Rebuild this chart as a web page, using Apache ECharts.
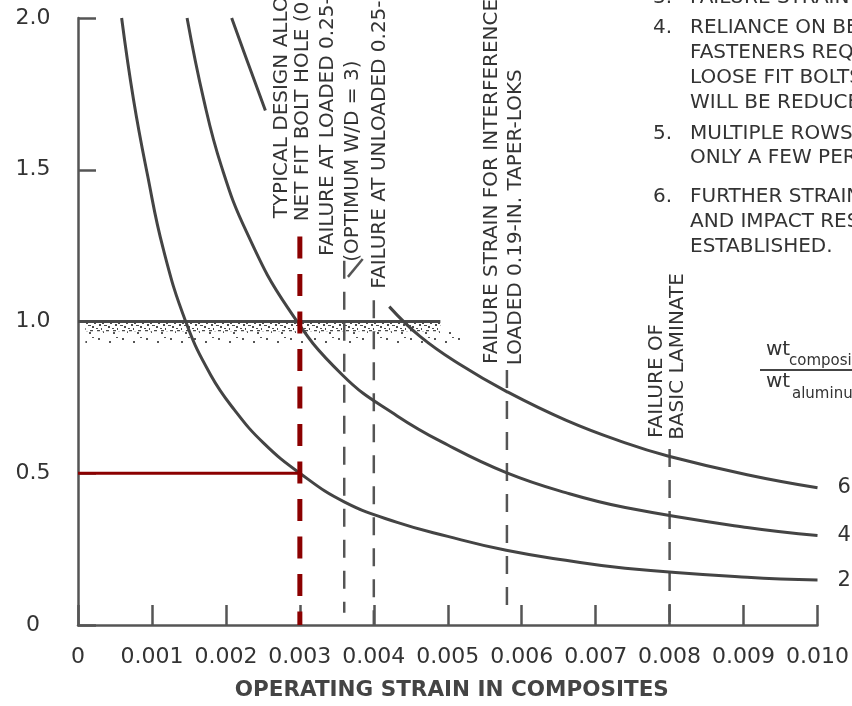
<!DOCTYPE html>
<html><head><meta charset="utf-8">
<script src="https://cdn.jsdelivr.net/npm/echarts@6/dist/echarts.min.js"></script>
<style>html,body{margin:0;padding:0;background:#fff}#c{width:852px;height:706px}</style>
</head><body><div id="c"></div>
<script>
// ---------- data ----------
const xTickLabels = ['0','0.001','0.002','0.003','0.004','0.005','0.006','0.007','0.008','0.009','0.010'];
const yTickLabels = ['0','0.5','1.0','1.5','2.0'];

// weight ratio curves (labels 2, 4, 6)
const curve2 = [[0.00059,2.0],[0.000751,1.731],[0.000938,1.485],[0.001153,1.239],[0.001461,0.997],[0.001796,0.823],[0.002118,0.708],[0.002507,0.600],[0.003,0.5],[0.003606,0.405],[0.004316,0.338],[0.005,0.292],[0.005791,0.246],[0.006595,0.213],[0.0074,0.187],[0.009048,0.157],[0.01,0.148]];
const curve4 = [[0.001475,2.0],[0.0017,1.731],[0.00194,1.511],[0.002279,1.295],[0.002842,1.043],[0.003579,0.823],[0.004316,0.689],[0.005,0.593],[0.005791,0.502],[0.006595,0.436],[0.0074,0.387],[0.009048,0.321],[0.01,0.295]];
const curve6Upper = [[0.002078,2.0],[0.002292,1.856],[0.002534,1.695]];
const curve6Lower = [[0.004209,1.049],[0.004625,0.951],[0.005161,0.859],[0.005791,0.770],[0.006595,0.675],[0.0074,0.600],[0.007976,0.557],[0.009048,0.495],[0.01,0.452]];

// vertical failure-strain lines: [strain, bottom, top]
const failureLines = [[0.0036,0.04,1.20],[0.004,0,1.07],[0.0058,0.033,0.84],[0.008,0,0.58]];
const leader = [[0.00365,1.147],[0.00385,1.206]];

// design point (red)
const designStrain = 0.003, designRatio = 0.5, designTop = 1.28;

// typical design band at ratio 1.0
const bandRatio = 1.0, bandLineEnd = 0.0049, bandStippleStart = 0.0001, bandStippleEnd = 0.0052, bandDense = 0.968, bandBottom = 0.92;

const curveNames = ['6','4','2'];
const annotations = [
  ['TYPICAL DESIGN ALLOWABLE', 0.00275, 1.34],
  ['NET FIT BOLT HOLE (0.25-IN.)', 0.00304, 1.33],
  ['FAILURE AT LOADED 0.25-IN.', 0.00338, 1.216],
  ['(OPTIMUM W/D = 3)', 0.00371, 1.197],
  ['FAILURE AT UNLOADED 0.25-IN.', 0.00408, 1.108],
  ['FAILURE STRAIN FOR INTERFERENCE', 0.00559, 0.86],
  ['LOADED 0.19-IN. TAPER-LOKS', 0.00592, 0.856],
  ['FAILURE OF', 0.00783, 0.616],
  ['BASIC LAMINATE', 0.00811, 0.61]
];
const noteLines = [
  ['3.','FAILURE STRAIN AT'],
  ['4.','RELIANCE ON BEARING'],
  ['','FASTENERS REQUIRED'],
  ['','LOOSE FIT BOLTS'],
  ['','WILL BE REDUCED'],
  ['5.','MULTIPLE ROWS'],
  ['','ONLY A FEW PER'],
  ['6.','FURTHER STRAIN'],
  ['','AND IMPACT RESIST'],
  ['','ESTABLISHED.']
];
const axisTitle = 'OPERATING STRAIN IN COMPOSITES';
const fracTop = ['wt','composite'], fracBottom = ['wt','aluminum'];

// ---------- drawing ----------
const FONT = '"DejaVu Sans", "Liberation Sans", sans-serif';
const INK = '#333';
const chart = echarts.init(document.getElementById('c'), null, {renderer:'canvas'});

function dots(w, h, pts, col) {
  const c = document.createElement('canvas'); c.width = w; c.height = h;
  const g = c.getContext('2d'); g.fillStyle = col;
  pts.forEach(p => g.fillRect(p[0], p[1], p[2], p[3]));
  return c;
}
const densePattern = dots(16, 10, [[1,0,3,2],[6,1,2,3],[10,0,3,2],[14,2,2,2],[3,4,2,2],[8,5,3,1],[12,6,2,2],[0,8,2,1],[5,8,1,2]], '#4a4a4a');
const sparsePattern = dots(24, 16, [[2,2,2,2],[13,5,2,2],[20,1,2,1],[7,11,1,2],[17,12,2,2]], '#555');

const curveStyle = {color:'#444', width:3};
const series = [];
[[curve6Upper,'6u'],[curve6Lower,curveNames[0]],[curve4,curveNames[1]],[curve2,curveNames[2]]].forEach(([d,n]) => {
  series.push({type:'line', name:n, data:d, smooth:0.45, symbol:'none', silent:true,
    lineStyle:curveStyle, z:3,
    endLabel: n === '6u' ? {show:false} : {show:true, formatter:'{a}', distance:20, fontSize:21, fontFamily:FONT, color:INK}});
});
failureLines.forEach(f => {
  series.push({type:'line', data:[[f[0],f[2]],[f[0],f[1]]], symbol:'none', silent:true, z:2,
    lineStyle:{color:'#555', width:2.5, type:[18,13]}});
});
series.push({type:'line', data:leader, symbol:'none', silent:true, lineStyle:{color:'#555', width:2.5}});
// band
series.push({type:'line', data:[[0,bandRatio],[bandLineEnd,bandRatio]], symbol:'none', silent:true, z:2,
  lineStyle:{color:'#4a4a4a', width:3},
  markArea:{silent:true, data:[
    [{coord:[bandStippleStart,bandRatio], itemStyle:{color:{image:densePattern, repeat:'repeat'}}},{coord:[bandLineEnd,bandDense]}],
    [{coord:[bandStippleStart,bandDense], itemStyle:{color:{image:sparsePattern, repeat:'repeat'}}},{coord:[bandStippleEnd,bandBottom]}]
  ]}
});
// red design lines
series.push({type:'line', data:[[designStrain,designTop],[designStrain,0]], symbol:'none', silent:true, z:5,
  lineStyle:{color:'#8b0000', width:5, type:[22,15.5]}});
series.push({type:'line', data:[[0,designRatio],[designStrain,designRatio]], symbol:'none', silent:true, z:5,
  lineStyle:{color:'#8b0000', width:3}});

const option = {
  animation:false,
  backgroundColor:'#fff',
  grid:{left:78, right:28, top:18, bottom:77, containLabel:false},
  xAxis:{type:'value', min:0, max:0.01, interval:0.001,
    axisLine:{show:true, lineStyle:{color:'#555', width:2.5}},
    axisTick:{show:true, inside:true, length:20, lineStyle:{color:'#555', width:2.5}},
    splitLine:{show:false},
    axisLabel:{margin:21, fontSize:22, fontFamily:FONT, color:INK, showMinLabel:true, showMaxLabel:true,
      formatter:v => xTickLabels[Math.round(v/0.001)]},
    name:axisTitle, nameLocation:'middle', nameGap:54,
    nameTextStyle:{fontSize:21.5, fontWeight:'bold', fontFamily:FONT, color:'#444', padding:[0,0,0,8]}
  },
  yAxis:{type:'value', min:0, max:2, interval:0.5,
    axisLine:{show:true, lineStyle:{color:'#555', width:2.5}},
    axisTick:{show:true, inside:true, length:18, lineStyle:{color:'#555', width:2.5}},
    splitLine:{show:false},
    axisLabel:{margin:45, align:'center', fontSize:22, fontFamily:FONT, color:INK,
      formatter:v => yTickLabels[Math.round(v/0.5)]}
  },
  series:series
};
chart.setOption(option);

const graphics = [];
function txt(x, y, text, font, extra) {
  return Object.assign({type:'text', x:x, y:y, silent:true, z:10,
    style:{text:text, font:font, fill:INK, align:'left', verticalAlign:'middle', textAlign:'left', textVerticalAlign:'middle'}}, extra || {});
}
annotations.forEach(a => {
  const p = chart.convertToPixel({gridIndex:0}, [a[1], a[2]]);
  graphics.push(txt(p[0], p[1], a[0], '20px ' + FONT, {rotation:Math.PI/2}));
});
const noteY = [-2, 28, 53, 78, 103, 134, 158, 197, 222, 247];
const noteFont = '20px ' + FONT;
noteLines.forEach((l, i) => {
  if (l[0]) graphics.push(txt(653, noteY[i], l[0], noteFont));
  graphics.push(txt(690, noteY[i], l[1], noteFont));
});
// fraction
graphics.push(txt(766, 350, fracTop[0], '20px ' + FONT));
graphics.push(txt(789, 361, fracTop[1], '15px ' + FONT));
graphics.push({type:'line', silent:true, shape:{x1:760, y1:370, x2:852, y2:370}, style:{stroke:'#444', lineWidth:2}});
graphics.push(txt(766, 382, fracBottom[0], '20px ' + FONT));
graphics.push(txt(792, 394, fracBottom[1], '15px ' + FONT));

chart.setOption({graphic:{elements:graphics}});
</script></body></html>
